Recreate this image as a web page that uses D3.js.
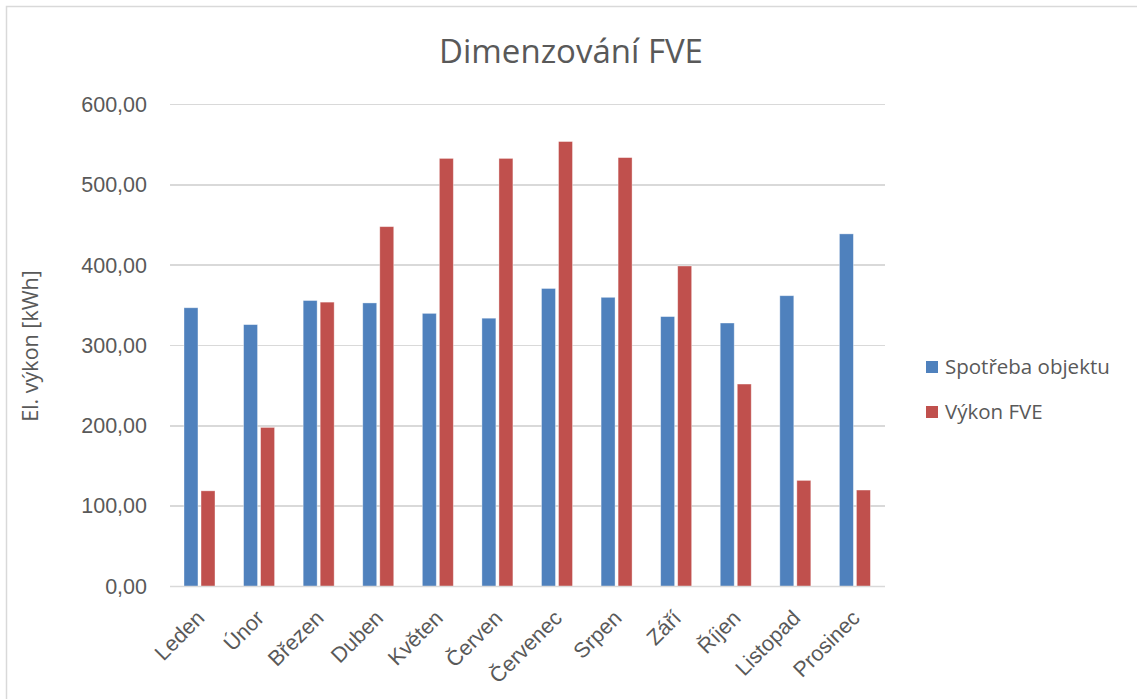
<!doctype html>
<html lang="cs">
<head>
<meta charset="utf-8">
<style>
html, body {
    margin: 0;
    padding: 0;
    background: #fff;
    overflow: hidden;
}
svg {
    display: block;
    font-family: "Open Sans", sans-serif;
}
.grid line {
    stroke: #d9d9d9;
    stroke-width: 1.5px;
    shape-rendering: crispEdges;
}
.axis path, .axis line {
    display: none;
}
.axis text {
    fill: #595959;
}
</style>
</head>
<body>
<svg id="chart" width="1137" height="699"></svg>
<script src="https://cdn.jsdelivr.net/npm/d3@7"></script>
<script>
const months = ['Leden', 'Únor', 'Březen', 'Duben', 'Květen', 'Červen', 'Červenec', 'Srpen', 'Září', 'Říjen', 'Listopad', 'Prosinec'];
const spotreba = [347, 326, 356, 353, 340, 334, 371, 360, 336, 328, 362, 439];
const vykonFve = [119, 198, 354, 448, 533, 533, 554, 534, 399, 252, 132, 120];
const seriesNames = ['Spotřeba objektu', 'Výkon FVE'];
const seriesColors = ['#4f81bd', '#c0504d'];
const yTicks = [0, 100, 200, 300, 400, 500, 600];

const svg = d3.select('#chart');
const plot = {left: 170, right: 885, top: 104.6, bottom: 586.4};

// frame of the chart object (runs off the right / bottom edge)
svg.append('rect')
    .attr('x', 6.5).attr('y', 6.5)
    .attr('width', 1200).attr('height', 800)
    .attr('fill', 'none')
    .attr('stroke', '#d9d9d9')
    .attr('stroke-width', 1.5);

const x = d3.scaleBand().domain(months).range([plot.left, plot.right]);
const bw = x.bandwidth();
const x1 = d3.scaleBand().domain(seriesNames)
    .range([bw * 0.235, bw * 0.755]).paddingInner(0.18);
const y = d3.scaleLinear().domain([0, 600]).range([plot.bottom, plot.top]);

const fmt = v => d3.format('.2f')(v).replace('.', ',');

// gridlines
svg.append('g').attr('class', 'grid')
    .selectAll('line').data(yTicks).enter()
    .append('line')
    .attr('x1', plot.left).attr('x2', plot.right)
    .attr('y1', d => y(d)).attr('y2', d => y(d));

// y axis labels
const yAxis = d3.axisLeft(y).tickValues(yTicks).tickFormat(fmt).tickSize(0).tickPadding(23);
svg.append('g').attr('class', 'axis')
    .attr('transform', `translate(${plot.left},0)`)
    .call(yAxis)
    .selectAll('text')
    .style('font-size', '21.5px');

// bars
const rows = months.map((m, i) => ({m, v: [spotreba[i], vykonFve[i]]}));
const groups = svg.append('g').selectAll('g').data(rows).enter()
    .append('g').attr('transform', d => `translate(${x(d.m)},0)`);
groups.selectAll('rect')
    .data(d => d.v.map((v, k) => ({k, v})))
    .enter().append('rect')
    .attr('x', d => x1(seriesNames[d.k]))
    .attr('width', x1.bandwidth())
    .attr('y', d => y(d.v))
    .attr('height', d => y(0) - y(d.v))
    .attr('fill', d => seriesColors[d.k])
    .attr('stroke', 'rgba(255,255,255,0.45)')
    .attr('stroke-width', 0.8);

// x axis
const xAxis = d3.axisBottom(x).tickSize(0).tickPadding(0);
const gx = svg.append('g').attr('class', 'axis')
    .attr('transform', `translate(0,${plot.bottom})`)
    .call(xAxis);
gx.selectAll('text')
    .style('font-size', '21.5px')
    .attr('text-anchor', 'end')
    .attr('dy', 0)
    .attr('transform', 'translate(6,33) rotate(-45)');
svg.append('line')
    .attr('x1', plot.left).attr('x2', plot.right)
    .attr('y1', plot.bottom).attr('y2', plot.bottom)
    .attr('stroke', '#d9d9d9').attr('stroke-width', 1.5);

// title
svg.append('text')
    .attr('x', 571).attr('y', 63)
    .attr('text-anchor', 'middle')
    .attr('fill', '#595959')
    .style('font-size', '33px')
    .text('Dimenzování FVE');

// y title
svg.append('text')
    .attr('transform', 'translate(38,346) rotate(-90)')
    .attr('text-anchor', 'middle')
    .attr('fill', '#595959')
    .style('font-size', '21.5px')
    .text('El. výkon [kWh]');

// legend
const legend = svg.append('g').selectAll('g').data(seriesNames).enter()
    .append('g').attr('transform', (d, i) => `translate(926,${361 + i * 45})`);
legend.append('rect')
    .attr('width', 12).attr('height', 12)
    .attr('fill', (d, i) => seriesColors[i]);
legend.append('text')
    .attr('x', 19).attr('y', 6).attr('dy', '0.35em')
    .attr('fill', '#595959')
    .style('font-size', '20.5px')
    .text(d => d);
</script>
</body>
</html>
